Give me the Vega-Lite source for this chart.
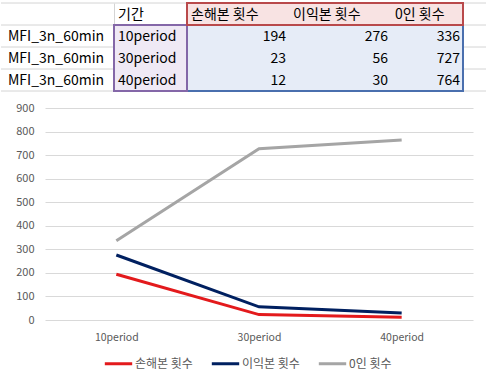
{
  "$schema": "https://vega.github.io/schema/vega-lite/v6.json",
  "padding": 0,
  "spacing": 7,
  "datasets": {
    "sheet": [
      {"row": 2, "name": "MFI_3n_60min", "기간": "10period", "손해본 횟수": 194, "이익본 횟수": 276, "0인 횟수": 336},
      {"row": 3, "name": "MFI_3n_60min", "기간": "30period", "손해본 횟수": 23, "이익본 횟수": 56, "0인 횟수": 727},
      {"row": 4, "name": "MFI_3n_60min", "기간": "40period", "손해본 횟수": 12, "이익본 횟수": 30, "0인 횟수": 764}
    ],
    "header": [
      {"col": 2, "label": "기간"},
      {"col": 3, "label": "손해본 횟수"},
      {"col": 4, "label": "이익본 횟수"},
      {"col": 5, "label": "0인 횟수"}
    ],
    "rows": [{"row": 1}, {"row": 2}, {"row": 3}, {"row": 4}, {"row": 5}],
    "ranges": [
      {"kind": "values", "c0": 3, "c1": 6, "r0": 2, "r1": 5},
      {"kind": "period", "c0": 2, "c1": 3, "r0": 2, "r1": 5},
      {"kind": "header", "c0": 3, "c1": 6, "r0": 1, "r1": 2}
    ]
  },
  "vconcat": [
    {
      "width": 442,
      "height": 95,
      "layer": [
        {
          "data": {"name": "rows"},
          "mark": {"type": "rule", "color": "#d4d4d4", "strokeWidth": 1},
          "encoding": {
            "x": {
              "datum": 0, "type": "quantitative",
              "scale": {"domain": [0, 1, 2, 3, 4, 5, 6, 7], "range": [-44, -41, 69, 142, 244, 346, 418, 442], "zero": false, "nice": false},
              "axis": {"values": [2, 3, 4, 5, 6], "grid": true, "gridColor": "#d4d4d4", "labels": false, "ticks": false, "domain": false, "title": null, "minExtent": 0, "maxExtent": 0, "orient": "top"}
            },
            "x2": {"datum": 7},
            "y": {
              "field": "row", "type": "quantitative",
              "scale": {"domain": [1, 5], "range": [3, 91], "zero": false, "nice": false},
              "axis": null
            }
          }
        },
        {
          "data": {"name": "ranges"},
          "mark": {"type": "rect", "strokeWidth": 2},
          "encoding": {
            "x": {"field": "c0", "type": "quantitative"},
            "x2": {"field": "c1"},
            "y": {"field": "r0", "type": "quantitative"},
            "y2": {"field": "r1"},
            "fill": {"field": "kind", "type": "nominal", "legend": null,
              "scale": {"domain": ["header", "period", "values"], "range": ["#f8e3e3", "#efe9f5", "#e6ecf7"]}},
            "stroke": {"field": "kind", "type": "nominal", "legend": null,
              "scale": {"domain": ["header", "period", "values"], "range": ["#b9494b", "#8467a8", "#4a6fae"]}}
          }
        },
        {
          "data": {"name": "header"},
          "mark": {"type": "text", "align": "left", "baseline": "middle", "dx": 4, "dy": 12, "font": "Noto Sans CJK KR", "fontSize": 14, "color": "#000000"},
          "encoding": {
            "x": {"field": "col", "type": "quantitative"},
            "y": {"datum": 1},
            "text": {"field": "label"}
          }
        },
        {
          "data": {"name": "sheet"},
          "mark": {"type": "text", "align": "left", "baseline": "middle", "dx": 4, "dy": 12, "font": "Noto Sans CJK KR", "fontSize": 14, "color": "#000000"},
          "encoding": {
            "x": {"datum": 1},
            "y": {"field": "row", "type": "quantitative"},
            "text": {"field": "name"}
          }
        },
        {
          "data": {"name": "sheet"},
          "mark": {"type": "text", "align": "left", "baseline": "middle", "dx": 4, "dy": 12, "font": "Noto Sans CJK KR", "fontSize": 14, "color": "#000000"},
          "encoding": {
            "x": {"datum": 2},
            "y": {"field": "row", "type": "quantitative"},
            "text": {"field": "기간"}
          }
        },
        {
          "data": {"name": "sheet"},
          "mark": {"type": "text", "align": "right", "baseline": "middle", "dx": -3, "dy": 12, "font": "Noto Sans CJK KR", "fontSize": 14, "color": "#000000"},
          "encoding": {
            "x": {"datum": 4},
            "y": {"field": "row", "type": "quantitative"},
            "text": {"field": "손해본 횟수"}
          }
        },
        {
          "data": {"name": "sheet"},
          "mark": {"type": "text", "align": "right", "baseline": "middle", "dx": -3, "dy": 12, "font": "Noto Sans CJK KR", "fontSize": 14, "color": "#000000"},
          "encoding": {
            "x": {"datum": 5},
            "y": {"field": "row", "type": "quantitative"},
            "text": {"field": "이익본 횟수"}
          }
        },
        {
          "data": {"name": "sheet"},
          "mark": {"type": "text", "align": "right", "baseline": "middle", "dx": -3, "dy": 12, "font": "Noto Sans CJK KR", "fontSize": 14, "color": "#000000"},
          "encoding": {
            "x": {"datum": 6},
            "y": {"field": "row", "type": "quantitative"},
            "text": {"field": "0인 횟수"}
          }
        }
      ]
    },
    {
      "width": 428,
      "height": 212,
      "data": {"name": "sheet"},
      "transform": [{"fold": ["손해본 횟수", "이익본 횟수", "0인 횟수"], "as": ["series", "value"]}],
      "mark": {"type": "line", "strokeWidth": 3, "strokeCap": "butt", "strokeJoin": "miter"},
      "encoding": {
        "x": {
          "field": "기간", "type": "ordinal",
          "scale": {"type": "point", "padding": 0.5},
          "axis": {"title": null, "labelAngle": 0, "domain": false, "ticks": false, "grid": false, "labelPadding": 12, "labelFont": "Noto Sans CJK KR", "labelFontSize": 10.5, "labelColor": "#595959"}
        },
        "y": {
          "field": "value", "type": "quantitative",
          "scale": {"domain": [0, 900], "nice": false},
          "axis": {"title": null, "values": [0, 100, 200, 300, 400, 500, 600, 700, 800, 900], "domain": false, "ticks": false, "grid": true, "gridColor": "#d9d9d9", "labelPadding": 11, "labelFont": "Noto Sans CJK KR", "labelFontSize": 11, "labelColor": "#595959", "minExtent": 44, "maxExtent": 44}
        },
        "color": {
          "field": "series", "type": "nominal",
          "scale": {"domain": ["손해본 횟수", "이익본 횟수", "0인 횟수"], "range": ["#e31a1c", "#002060", "#a5a5a5"]},
          "legend": {"title": null, "orient": "none", "legendX": 58, "legendY": 348, "direction": "horizontal", "symbolType": "stroke", "symbolStrokeWidth": 3, "symbolSize": 750, "labelFont": "Noto Sans CJK KR", "labelFontSize": 12, "labelColor": "#595959", "labelOffset": 1, "columnPadding": 12}
        }
      }
    }
  ],
  "config": {
    "view": {"stroke": null}
  }
}
